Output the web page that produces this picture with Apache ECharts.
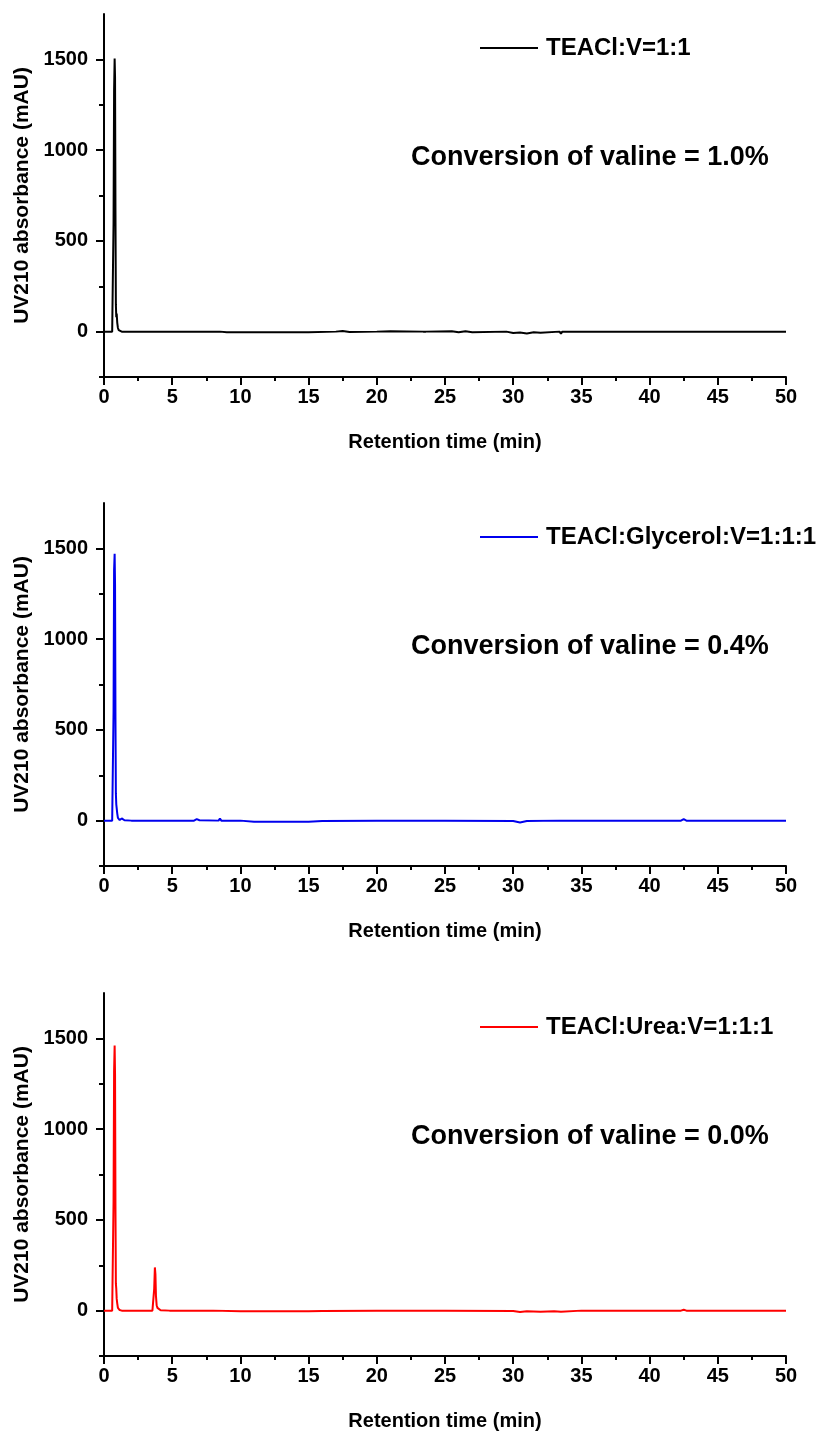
<!DOCTYPE html>
<html>
<head>
<meta charset="utf-8">
<script src="https://cdn.jsdelivr.net/npm/echarts@6/dist/echarts.min.js"></script>
<style>
html,body{margin:0;padding:0;background:#fff;}
#c{width:831px;height:1433px;}
</style>
</head>
<body>
<div id="c"></div>
<script>
// ---- Data ----
const seriesNames = ['TEACl:V=1:1', 'TEACl:Glycerol:V=1:1:1', 'TEACl:Urea:V=1:1:1'];
const conversionTexts = ['Conversion of valine = 1.0%', 'Conversion of valine = 0.4%', 'Conversion of valine = 0.0%'];
const xTickMax = 50;
const yMajorTicks = [0, 500, 1000, 1500];
const yMinorTicks = [-250, 250, 750, 1250];

// Panel 1 (black)
const time1 = [0, 0.6, 0.66, 0.70, 0.74, 0.78, 0.81, 0.84, 0.87, 0.90, 0.93, 0.97, 1.02, 1.08, 1.15, 1.3, 2.0, 5.0, 8.5, 9.0, 15.0, 17.0, 17.5, 18.0, 20.0, 21.0, 23.4, 23.5, 23.6, 25.5, 26.0, 26.5, 27.0, 29.5, 30.0, 30.5, 31.0, 31.5, 32.0, 33.4, 33.5, 33.6, 36.4, 36.5, 36.6, 40.0, 45.0, 50.0];
const abs1  = [0, 0, 5, 600, 1330, 1505, 1400, 670, 150, 80, 100, 50, 20, 8, 3, 0, 0, 0, 0, -3, -3, 0, 3, -2, 0, 2, 0, -4, 0, 2, -4, 2, -3, 0, -8, -5, -10, -4, -6, 0, -12, 0, 0, -4, 0, 0, 0, 0];

// Panel 2 (blue)
const time2 = [0, 0.6, 0.66, 0.70, 0.74, 0.78, 0.81, 0.84, 0.87, 0.90, 0.93, 0.97, 1.02, 1.08, 1.15, 1.3, 1.5, 2.0, 3.1, 3.2, 3.3, 6.6, 6.8, 7.0, 8.4, 8.5, 8.6, 10.0, 11.0, 15.0, 16.0, 20.0, 25.0, 30.0, 30.5, 31.0, 33.4, 33.5, 33.6, 42.3, 42.5, 42.7, 45.0, 50.0];
const abs2  = [0, 0, 5, 600, 1380, 1470, 1300, 570, 150, 90, 95, 40, 15, 8, 3, 12, 2, 0, 0, 10, 0, 0, 8, 2, 0, 12, 0, 0, -6, -6, -2, 0, 0, -2, -10, -2, 0, -8, 0, 0, 8, 0, 0, 0];

// Panel 3 (red)
const time3 = [0, 0.6, 0.66, 0.70, 0.74, 0.78, 0.81, 0.84, 0.87, 0.90, 0.93, 0.97, 1.02, 1.08, 1.15, 1.3, 1.5, 3.55, 3.62, 3.68, 3.73, 3.77, 3.81, 3.86, 3.92, 4.0, 4.15, 4.8, 4.88, 4.95, 8.0, 10.0, 15.0, 16.0, 20.0, 25.0, 30.0, 30.5, 31.0, 32.0, 33.0, 33.5, 35.0, 42.3, 42.5, 42.7, 50.0];
const abs3  = [0, 0, 5, 600, 1320, 1460, 1300, 573, 150, 120, 66, 40, 15, 8, 3, 0, 0, 0, 5, 120, 238, 200, 80, 30, 15, 8, 2, 0, 10, 0, 0, -4, -4, -2, 0, 0, -2, -8, -4, -6, -3, -6, 0, 0, 5, 0, 0];

const colors = ['#000000', '#0000ee', '#ff0000'];
const timeArrays = [time1, time2, time3];
const absArrays = [abs1, abs2, abs3];

// ---- Layout ----
const gridTops = [14, 503, 993];
const gridHeight = 363;
const FONT = '"Liberation Sans", Arial, sans-serif';

const grids = [], xAxes = [], yAxes = [], series = [], legends = [], titles = [];
for (let i = 0; i < 3; i++) {
  grids.push({left: 104, right: 45, top: gridTops[i], height: gridHeight, containLabel: false, outerBoundsMode: 'none'});
  xAxes.push({
    type: 'value', gridIndex: i, min: 0, max: xTickMax, interval: 5,
    name: 'Retention time (min)', nameLocation: 'middle', nameGap: 55,
    nameTextStyle: {fontFamily: FONT, fontWeight: 'bold', fontSize: 20, color: '#000'},
    axisLine: {show: true, onZero: false, lineStyle: {color: '#000', width: 2}},
    axisTick: {show: true, inside: false, length: 8, lineStyle: {color: '#000', width: 2}},
    minorTick: {show: true, splitNumber: 2, length: 4, lineStyle: {color: '#000', width: 2}},
    axisLabel: {fontFamily: FONT, fontWeight: 'bold', fontSize: 20, color: '#000', margin: 10, formatter: v => String(v)},
    splitLine: {show: false}, minorSplitLine: {show: false}
  });
  yAxes.push({
    type: 'value', gridIndex: i, min: -250, max: 1750,
    name: 'UV210 absorbance (mAU)', nameLocation: 'middle', nameGap: 68,
    nameTextStyle: {fontFamily: FONT, fontWeight: 'bold', fontSize: 21, color: '#000'},
    axisLine: {show: true, onZero: false, lineStyle: {color: '#000', width: 2}},
    axisTick: {show: true, inside: false, length: 8, customValues: yMajorTicks, lineStyle: {color: '#000', width: 2}},
    axisLabel: {show: true, customValues: yMajorTicks, fontFamily: FONT, fontWeight: 'bold', fontSize: 20, color: '#000', margin: 16, formatter: v => String(v)},
    splitLine: {show: false}
  });
  // minor ticks on the y axis
  yAxes.push({
    type: 'value', gridIndex: i, min: -250, max: 1750, position: 'left',
    axisLine: {show: false, onZero: false},
    axisTick: {show: true, inside: false, length: 5, customValues: yMinorTicks, lineStyle: {color: '#000', width: 2}},
    axisLabel: {show: false},
    splitLine: {show: false}
  });
  const t = timeArrays[i], a = absArrays[i];
  series.push({
    name: seriesNames[i], type: 'line', xAxisIndex: i, yAxisIndex: i * 2,
    data: t.map((x, k) => [x, a[k]]),
    symbol: 'none', showSymbol: false, smooth: false,
    lineStyle: {color: colors[i], width: 2}, itemStyle: {color: colors[i]},
    z: 3
  });
  legends.push({
    data: [seriesNames[i]], left: 479, top: gridTops[i] + 22, padding: 0,
    itemWidth: 58, itemHeight: 14, itemGap: 0, selectedMode: false,
    itemStyle: {opacity: 0},
    lineStyle: {width: 2},
    textStyle: {fontFamily: FONT, fontWeight: 'bold', fontSize: 24, color: '#000', padding: [0, 0, 0, 3]}
  });
  titles.push({
    text: conversionTexts[i], left: 411, top: gridTops[i] + 130, padding: 0,
    textStyle: {fontFamily: FONT, fontWeight: 'bold', fontSize: 27, color: '#000'}
  });
}

const chart = echarts.init(document.getElementById('c'), null, {renderer: 'canvas'});
chart.setOption({
  animation: false,
  backgroundColor: '#fff',
  title: titles,
  legend: legends,
  grid: grids,
  xAxis: xAxes,
  yAxis: yAxes,
  series: series
});
</script>
</body>
</html>
